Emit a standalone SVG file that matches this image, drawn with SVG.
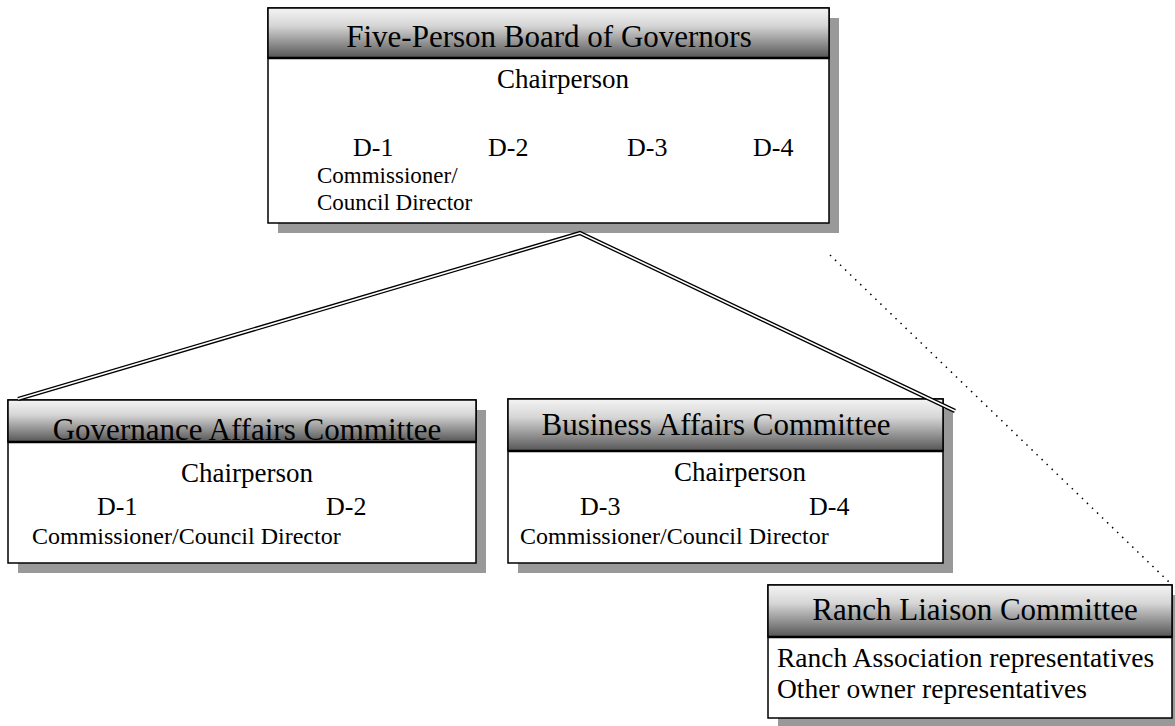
<svg xmlns="http://www.w3.org/2000/svg" width="1175" height="726" viewBox="0 0 1175 726">
<defs>
<linearGradient id="hdr" x1="0" y1="0" x2="0" y2="1">
<stop offset="0" stop-color="#f4f4f4"/>
<stop offset="0.35" stop-color="#d6d6d6"/>
<stop offset="1" stop-color="#555555"/>
</linearGradient>
<style>
.shadow{fill:#999999}
.box{fill:#ffffff;stroke:#000000;stroke-width:1.5}
.hdr{fill:url(#hdr);stroke:#000000;stroke-width:1.5}
.sep{stroke:#000000;stroke-width:2.5}
text{font-family:"Liberation Serif","Times New Roman",serif;fill:#000000}
.t{font-size:31px;text-anchor:middle}
.c{font-size:27px;text-anchor:middle}
.d{font-size:26px}
.s{font-size:23px}
.m{font-size:24px}
.r{font-size:27.5px}
.dbl-o{fill:none;stroke:#000000;stroke-width:4.2;stroke-linejoin:miter}
.dbl-i{fill:none;stroke:#ffffff;stroke-width:1.6;stroke-linejoin:miter}
.dot{fill:none;stroke:#000000;stroke-width:1.5;stroke-dasharray:1.5 5.5}
</style>
</defs>
<rect width="1175" height="726" fill="#ffffff"/>

<g id="board">
<rect class="shadow" x="278" y="18" width="561" height="215"/>
<rect class="box" x="268" y="8" width="561" height="215"/>
<rect class="hdr" x="268" y="8" width="561" height="50"/>
<line class="sep" x1="268" y1="58" x2="829" y2="58"/>
<text class="t" x="549" y="47">Five-Person Board of Governors</text>
<text class="c" x="563" y="88">Chairperson</text>
<text class="d" x="353" y="156">D-1</text>
<text class="d" x="488" y="156">D-2</text>
<text class="d" x="627" y="156">D-3</text>
<text class="d" x="753" y="156">D-4</text>
<text class="s" x="317" y="183">Commissioner/</text>
<text class="s" x="317" y="210">Council Director</text>
</g>

<g id="governance">
<rect class="shadow" x="18" y="410" width="468" height="163"/>
<rect class="box" x="8" y="400" width="468" height="163"/>
<rect class="hdr" x="8" y="400" width="468" height="42"/>
<line class="sep" x1="8" y1="442" x2="476" y2="442"/>
<text class="t" x="247" y="440">Governance Affairs Committee</text>
<text class="c" x="247" y="482">Chairperson</text>
<text class="d" x="97" y="515">D-1</text>
<text class="d" x="326" y="515">D-2</text>
<text class="m" x="32" y="544">Commissioner/Council Director</text>
</g>

<g id="business">
<rect class="shadow" x="518" y="409" width="435" height="164"/>
<rect class="box" x="508" y="399" width="435" height="164"/>
<rect class="hdr" x="508" y="399" width="435" height="52"/>
<line class="sep" x1="508" y1="451" x2="943" y2="451"/>
<text class="t" x="716" y="435">Business Affairs Committee</text>
<text class="c" x="740" y="481">Chairperson</text>
<text class="d" x="580" y="515">D-3</text>
<text class="d" x="809" y="515">D-4</text>
<text class="m" x="520" y="544">Commissioner/Council Director</text>
</g>

<g id="ranch">
<rect class="shadow" x="778" y="595" width="404" height="133"/>
<rect class="box" x="768" y="585" width="404" height="133"/>
<rect class="hdr" x="768" y="585" width="404" height="52"/>
<line class="sep" x1="768" y1="637" x2="1172" y2="637"/>
<text class="t" x="975" y="620">Ranch Liaison Committee</text>
<text class="r" x="777" y="667">Ranch Association representatives</text>
<text class="r" x="777" y="698">Other owner representatives</text>
</g>

<g id="connectors">
<polyline class="dbl-o" points="18,399 580,233 955,411"/>
<polyline class="dbl-i" points="18,399 580,233 955,411"/>
<line class="dot" x1="830" y1="255" x2="1170" y2="583"/>
</g>
</svg>
